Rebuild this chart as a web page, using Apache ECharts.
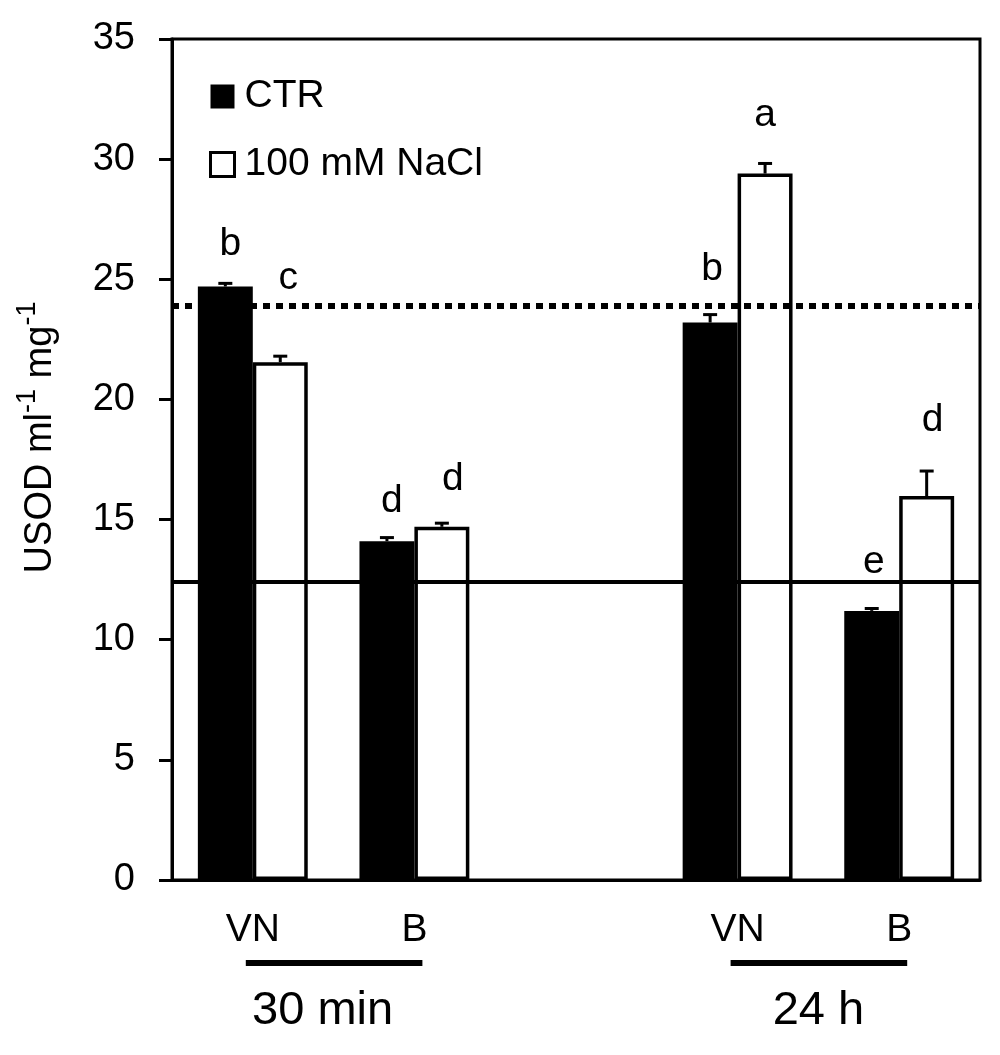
<!DOCTYPE html>
<html>
<head>
<meta charset="utf-8">
<title>USOD</title>
<script src="https://cdn.jsdelivr.net/npm/echarts@6/dist/echarts.min.js"></script>
<style>
  html, body { margin: 0; padding: 0; background: #fff; }
  #chart { width: 1000px; height: 1055px; }
</style>
</head>
<body>
<div id="chart"></div>
<script>
// categories: two tissues at two times, with an empty slot between the times
const categories = ['VN_30min', 'B_30min', 'gap', 'VN_24h', 'B_24h']
const tickLabels = ['VN', 'B', '', 'VN', 'B']
const groupLabels = ['30 min', '24 h']
const groupMembers = [[0, 1], [3, 4]]

const ctrValues = [24.7, 14.1, null, 23.2, 11.2]
const ctrErrors = [0.13, 0.15, null, 0.33, 0.1]
const naclValues = [21.55, 14.7, null, 29.4, 15.98]
const naclErrors = [0.25, 0.15, null, 0.42, 1.04]

const ctrLetters = ['b', 'd', '', 'b', 'e']
const naclLetters = ['c', 'd', '', 'a', 'd']

// reference lines
const dottedLevel = 23.88
const solidLevel = 12.42

const font = '"Liberation Sans", Arial, sans-serif'

// letter placement above each bar (px gap to baseline, px shift right)
const ctrLetterGap = [31, 28, 0, 42, 37]
const ctrLetterShift = [5, 5, 0, 2, 2]
const naclLetterGap = [72, 36, 0, 47, 64]
const naclLetterShift = [8, 11, 0, 0, 6]
// the "30 min" text sits a bit left of its underline
const groupLabelShift = [-11, 0]

const chart = echarts.init(document.getElementById('chart'))

const CAT_GAP = 0.32

const barData = (values, letters, gaps, shifts) => values.map((v, i) => {
    if (v == null) return null
    return {
        value: v,
        label: {
            formatter: letters[i],
            distance: gaps[i] - 8,
            offset: [shifts[i], 0]
        }
    }
})

const errData = (values, errors) => values
    .map((v, i) => v == null ? null : [i, v, errors[i]])
    .filter(d => d)

const errSeries = (name, values, errors, side) => ({
    name: name,
    type: 'custom',
    z: 5,
    silent: true,
    data: errData(values, errors),
    encode: { x: 0, y: 1 },
    renderItem: (params, api) => {
        const idx = api.value(0)
        const val = api.value(1)
        const err = api.value(2)
        const base = api.coord([idx, val])
        const top = api.coord([idx, val + err])
        const bw = api.size([1, 0])[0] * (1 - CAT_GAP) / 2
        const x = base[0] + side * bw / 2
        const style = { stroke: '#000', lineWidth: 3 }
        return {
            type: 'group',
            children: [
                { type: 'line', shape: { x1: x, y1: base[1], x2: x, y2: top[1] }, style: style },
                { type: 'line', shape: { x1: x - 7, y1: top[1], x2: x + 7, y2: top[1] }, style: style }
            ]
        }
    }
})

const letterLabel = {
    show: true,
    position: 'top',
    color: '#000',
    fontFamily: font,
    fontSize: 39
}

const option = {
    backgroundColor: '#fff',
    animation: false,
    textStyle: { fontFamily: font, color: '#000' },
    grid: {
        left: 172, right: 20, top: 39, bottom: 175,
        show: true, borderColor: '#000', borderWidth: 3
    },
    legend: {
        orient: 'vertical',
        left: 204,
        top: 72,
        itemWidth: 24,
        itemHeight: 24,
        itemGap: 29,
        selectedMode: false,
        data: [
            { name: 'CTR', icon: 'rect' },
            { name: '100 mM NaCl', icon: 'rect', itemStyle: { borderWidth: 3, borderColor: '#000', color: '#fff' } }
        ],
        textStyle: {
            fontFamily: font, fontSize: 39, color: '#000',
            padding: [0, 0, 0, 5]
        }
    },
    xAxis: {
        type: 'category',
        data: categories,
        axisLine: { lineStyle: { color: '#000', width: 3 } },
        axisTick: { show: false },
        axisLabel: {
            color: '#000',
            fontFamily: font,
            fontSize: 39,
            margin: 31,
            interval: 0,
            formatter: (v, i) => tickLabels[i]
        },
        splitLine: { show: false }
    },
    yAxis: {
        type: 'value',
        min: 0,
        max: 35,
        interval: 5,
        name: '{n|USOD ml}{s|-1}{n| mg}{s|-1}',
        nameLocation: 'middle',
        nameGap: 112,
        nameRotate: 90,
        nameTextStyle: {
            padding: [0, 0, 0, 44],
            rich: {
                n: { fontFamily: font, fontSize: 38, color: '#000', lineHeight: 46, verticalAlign: 'bottom' },
                s: { fontFamily: font, fontSize: 27, color: '#000', lineHeight: 46, verticalAlign: 'top' }
            }
        },
        axisLine: { show: true, lineStyle: { color: '#000', width: 3 } },
        axisTick: { show: true, length: 13, inside: false, lineStyle: { color: '#000', width: 3 } },
        axisLabel: { color: '#000', fontFamily: font, fontSize: 38, margin: 37 },
        splitLine: { show: false }
    },
    series: [
        {
            name: 'CTR',
            type: 'bar',
            barGap: '0%',
            barCategoryGap: (CAT_GAP * 100) + '%',
            itemStyle: { color: '#000' },
            label: letterLabel,
            data: barData(ctrValues, ctrLetters, ctrLetterGap, ctrLetterShift)
        },
        {
            name: '100 mM NaCl',
            type: 'bar',
            barGap: '0%',
            barCategoryGap: (CAT_GAP * 100) + '%',
            itemStyle: { color: '#fff', borderColor: '#000', borderWidth: 3.5 },
            label: letterLabel,
            data: barData(naclValues, naclLetters, naclLetterGap, naclLetterShift)
        },
        errSeries('CTR error', ctrValues, ctrErrors, -1),
        errSeries('NaCl error', naclValues, naclErrors, 1),
        {
            name: 'levels',
            type: 'line',
            data: [],
            z: 6,
            markLine: {
                silent: true,
                symbol: 'none',
                label: { show: false },
                data: [
                    { yAxis: dottedLevel, lineStyle: { color: '#000', width: 6, type: [7, 6] } },
                    { yAxis: solidLevel, lineStyle: { color: '#000', width: 4, type: 'solid' } }
                ]
            }
        }
    ]
}

chart.setOption(option)

// group underlines and time labels below the category labels
const y0 = chart.convertToPixel({ yAxisIndex: 0 }, 0)
const graphics = []
groupMembers.forEach((members, g) => {
    const xa = chart.convertToPixel({ xAxisIndex: 0 }, members[0])
    const xb = chart.convertToPixel({ xAxisIndex: 0 }, members[1])
    graphics.push({
        type: 'line',
        shape: { x1: xa - 7, y1: y0 + 83, x2: xb + 8, y2: y0 + 83 },
        style: { stroke: '#000', lineWidth: 6 }
    })
    graphics.push({
        type: 'text',
        x: (xa + xb) / 2 + groupLabelShift[g],
        y: y0 + 131,
        style: {
            text: groupLabels[g],
            font: '47px ' + font,
            fill: '#000',
            textAlign: 'center',
            textVerticalAlign: 'middle'
        }
    })
})
chart.setOption({ graphic: graphics })
</script>
</body>
</html>
